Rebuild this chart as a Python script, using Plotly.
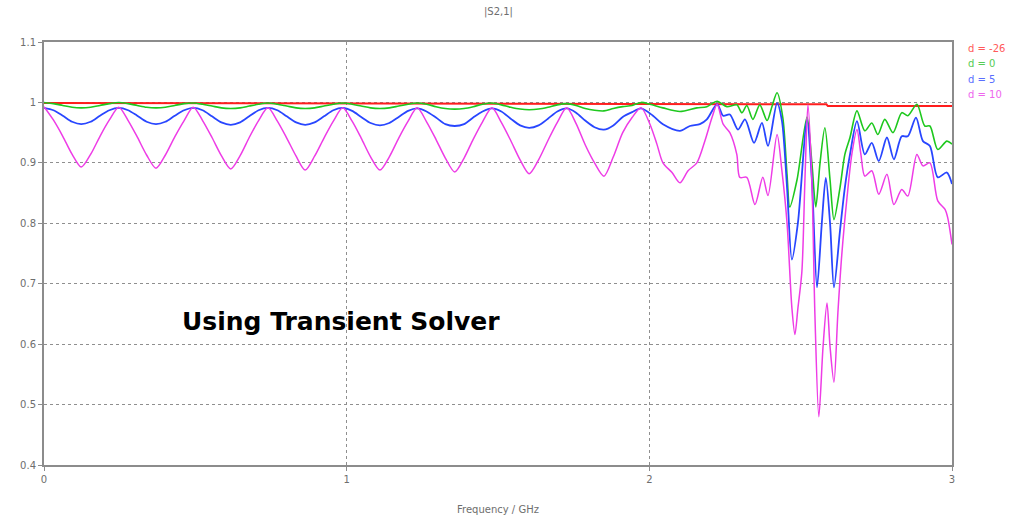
import plotly.graph_objects as go

# ---------------- data ----------------
freq_periodic = [
    0.000, 0.031, 0.062, 0.093, 0.123, 0.154, 0.185, 0.216,
    0.247, 0.278, 0.308, 0.339, 0.370, 0.401, 0.432, 0.463,
    0.493, 0.524, 0.555, 0.586, 0.617, 0.648, 0.678, 0.709,
    0.740, 0.771, 0.802, 0.833, 0.863, 0.894, 0.925, 0.956,
    0.987, 1.018, 1.048, 1.079, 1.110, 1.141, 1.172, 1.203,
    1.233, 1.264, 1.295, 1.326, 1.357, 1.388, 1.418, 1.449,
    1.480, 1.511, 1.542, 1.573, 1.603, 1.634, 1.665, 1.696,
    1.727, 1.758, 1.788, 1.819, 1.850, 1.881, 1.912, 1.943,
    1.973,
]

green_periodic = [
    1.000, 0.998, 0.995, 0.992, 0.991, 0.992, 0.995, 0.998,
    1.000, 0.998, 0.995, 0.992, 0.991, 0.992, 0.995, 0.998,
    0.999, 0.997, 0.994, 0.991, 0.990, 0.991, 0.994, 0.997,
    0.999, 0.997, 0.994, 0.991, 0.990, 0.991, 0.994, 0.997,
    0.999, 0.997, 0.994, 0.991, 0.990, 0.991, 0.994, 0.997,
    0.999, 0.997, 0.993, 0.990, 0.989, 0.990, 0.993, 0.997,
    0.999, 0.996, 0.992, 0.989, 0.988, 0.989, 0.992, 0.996,
    0.998, 0.995, 0.990, 0.987, 0.986, 0.990, 0.993, 0.995,
    1.000,
]
blue_periodic = [
    0.991, 0.987, 0.978, 0.968, 0.964, 0.968, 0.978, 0.987,
    0.991, 0.987, 0.978, 0.968, 0.964, 0.968, 0.978, 0.987,
    0.991, 0.987, 0.977, 0.967, 0.963, 0.967, 0.977, 0.987,
    0.991, 0.987, 0.977, 0.967, 0.963, 0.967, 0.977, 0.987,
    0.991, 0.986, 0.976, 0.966, 0.962, 0.966, 0.976, 0.986,
    0.990, 0.985, 0.975, 0.964, 0.961, 0.964, 0.975, 0.985,
    0.990, 0.985, 0.973, 0.962, 0.958, 0.962, 0.973, 0.985,
    0.990, 0.983, 0.970, 0.959, 0.955, 0.962, 0.976, 0.984,
    0.990,
]
magenta_periodic = [
    0.993, 0.971, 0.944, 0.914, 0.893, 0.914, 0.944, 0.971,
    0.992, 0.970, 0.943, 0.913, 0.891, 0.913, 0.943, 0.970,
    0.992, 0.970, 0.942, 0.912, 0.890, 0.912, 0.942, 0.970,
    0.991, 0.969, 0.941, 0.911, 0.888, 0.911, 0.941, 0.969,
    0.991, 0.969, 0.941, 0.910, 0.888, 0.910, 0.941, 0.969,
    0.991, 0.968, 0.939, 0.908, 0.885, 0.908, 0.939, 0.968,
    0.991, 0.967, 0.937, 0.905, 0.882, 0.905, 0.937, 0.967,
    0.991, 0.965, 0.930, 0.900, 0.878, 0.910, 0.950, 0.975,
    0.991,
]

green_tail_freq = [2.002, 2.045, 2.101, 2.157, 2.190, 2.224, 2.256, 2.289, 2.306, 2.322,
                   2.342, 2.365, 2.389, 2.405, 2.422, 2.441, 2.455, 2.464, 2.488, 2.521,
                   2.537, 2.550, 2.564, 2.580, 2.597, 2.610, 2.630, 2.646, 2.663, 2.686,
                   2.712, 2.735, 2.755, 2.778, 2.805, 2.834, 2.854, 2.884, 2.910, 2.927,
                   2.953, 2.983, 3.000]
green_tail = [0.997, 0.991, 0.985, 0.991, 0.993, 1.002, 0.993, 0.996, 0.983, 0.995,
              0.972, 0.996, 0.970, 0.993, 1.016, 0.975, 0.880, 0.827, 0.872, 0.976,
              0.900, 0.827, 0.900, 0.958, 0.872, 0.806, 0.859, 0.914, 0.942, 0.986,
              0.953, 0.966, 0.947, 0.972, 0.950, 0.983, 0.978, 0.997, 0.961, 0.961,
              0.922, 0.936, 0.931]

blue_tail_freq = [2.012, 2.045, 2.101, 2.134, 2.167, 2.190, 2.224, 2.244, 2.266, 2.293,
                  2.316, 2.346, 2.372, 2.392, 2.422, 2.438, 2.455, 2.471, 2.491, 2.521,
                  2.537, 2.554, 2.570, 2.583, 2.597, 2.610, 2.630, 2.646, 2.663, 2.686,
                  2.712, 2.735, 2.758, 2.785, 2.808, 2.834, 2.854, 2.881, 2.904, 2.927,
                  2.953, 2.983, 3.000]
blue_tail = [0.978, 0.964, 0.953, 0.961, 0.964, 0.972, 0.997, 0.978, 0.980, 0.955,
             0.972, 0.933, 0.966, 0.928, 0.999, 0.970, 0.859, 0.740, 0.801, 0.971,
             0.872, 0.694, 0.801, 0.875, 0.801, 0.694, 0.788, 0.859, 0.914, 0.969,
             0.914, 0.933, 0.903, 0.942, 0.906, 0.944, 0.944, 0.975, 0.936, 0.928,
             0.876, 0.884, 0.865]

magenta_tail_freq = [2.002, 2.025, 2.045, 2.075, 2.101, 2.128, 2.157, 2.184, 2.207, 2.224,
                     2.244, 2.266, 2.289, 2.299, 2.322, 2.349, 2.375, 2.392, 2.422, 2.438,
                     2.455, 2.471, 2.481, 2.491, 2.504, 2.514, 2.524, 2.537, 2.547, 2.560,
                     2.574, 2.587, 2.597, 2.610, 2.623, 2.636, 2.653, 2.669, 2.686, 2.699,
                     2.712, 2.735, 2.758, 2.785, 2.808, 2.834, 2.854, 2.884, 2.904, 2.927,
                     2.953, 2.977, 2.986, 3.000]
magenta_tail = [0.964, 0.931, 0.900, 0.884, 0.867, 0.887, 0.900, 0.937, 0.975, 0.997,
                0.964, 0.950, 0.914, 0.876, 0.876, 0.831, 0.876, 0.846, 0.947, 0.887,
                0.800, 0.660, 0.616, 0.660, 0.720, 0.870, 0.996, 0.870, 0.650, 0.480,
                0.596, 0.668, 0.596, 0.537, 0.652, 0.749, 0.842, 0.914, 0.955, 0.914,
                0.878, 0.887, 0.848, 0.881, 0.831, 0.856, 0.845, 0.914, 0.895, 0.900,
                0.837, 0.823, 0.809, 0.765]

red_freq = [0.0, 1.0, 2.0, 2.585, 2.590, 3.0]
red_vals = [0.999, 0.998, 0.997, 0.997, 0.994, 0.994]

legend_labels = ["d = -26", "d = 0", "d = 5", "d = 10"]
colors = ["#ff1e1e", "#1ec81e", "#2846ff", "#ee3ce6"]
text_colors = ["#ff5a5a", "#55cc55", "#5a6eff", "#ee66ee"]

x_ticks = [0, 1, 2, 3]
y_ticks = [0.4, 0.5, 0.6, 0.7, 0.8, 0.9, 1.0, 1.1]

# ---------------- figure ----------------
fig = go.Figure()

series = [
    (red_freq, red_vals, "linear", 2.0),
    (freq_periodic + green_tail_freq, green_periodic + green_tail, "spline", 1.6),
    (freq_periodic + blue_tail_freq, blue_periodic + blue_tail, "spline", 1.8),
    (freq_periodic + magenta_tail_freq, magenta_periodic + magenta_tail, "spline", 1.5),
]
for (xs, ys, shape, w), col, name in zip(series, colors, legend_labels):
    line = dict(color=col, width=w, shape=shape)
    if shape == "spline":
        line["smoothing"] = 0.8
    fig.add_trace(go.Scatter(x=xs, y=ys, mode="lines", line=line, name=name,
                             showlegend=False, hoverinfo="skip"))

axis_common = dict(
    showline=True, linecolor="#8c8c8c", linewidth=2, mirror=True,
    showgrid=True, gridcolor="#8f8f8f", griddash="dot", gridwidth=1,
    zeroline=False, ticks="outside", ticklen=4, tickcolor="#8c8c8c",
    tickfont=dict(family="DejaVu Sans", size=10, color="#6e6e6e"),
)
fig.update_xaxes(range=[0, 3], tickvals=x_ticks, **axis_common)
fig.update_yaxes(range=[0.4, 1.1], tickvals=y_ticks,
                 ticktext=[f"{v:g}" for v in y_ticks], **axis_common)

annotations = [
    dict(text="|S2,1|", x=0.5, y=1.071, xref="paper", yref="paper",
         xanchor="center", yanchor="middle", showarrow=False,
         font=dict(family="DejaVu Sans", size=10, color="#6e6e6e")),
    dict(text="Frequency / GHz", x=0.5, y=-0.106, xref="paper", yref="paper",
         xanchor="center", yanchor="middle", showarrow=False,
         font=dict(family="DejaVu Sans", size=10, color="#6e6e6e")),
    dict(text="<b>Using Transient Solver</b>", x=0.327, y=0.340, xref="paper", yref="paper",
         xanchor="center", yanchor="middle", showarrow=False,
         font=dict(family="DejaVu Sans", size=25, color="#000000")),
]
for i, (lab, tc) in enumerate(zip(legend_labels, text_colors)):
    annotations.append(dict(text=lab, x=1.0155, y=(465 - (48.5 + 15.3 * i)) / 423,
                            xref="paper", yref="paper", xanchor="left", yanchor="middle",
                            showarrow=False,
                            font=dict(family="DejaVu Sans", size=10, color=tc)))

fig.update_layout(
    width=1012, height=520,
    margin=dict(l=44, r=60, t=42, b=55),
    paper_bgcolor="white", plot_bgcolor="white",
    annotations=annotations,
)

fig.write_html("out.html")
